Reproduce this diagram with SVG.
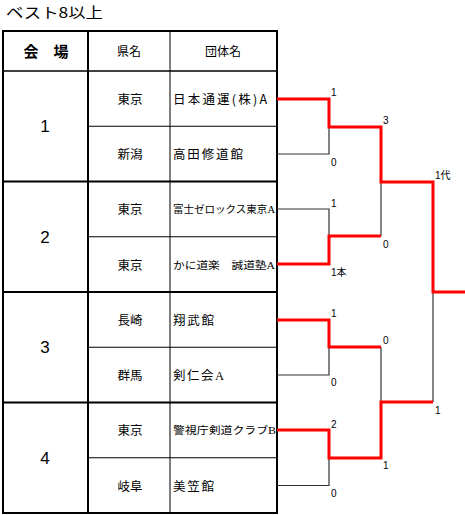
<svg xmlns="http://www.w3.org/2000/svg" width="465" height="515" viewBox="0 0 465 515">
<style>
text{font-family:"Noto Sans CJK JP","Liberation Sans",sans-serif;fill:#000}
.t{font-size:14.5px}
.h{font-size:15px;font-weight:bold}
.hc{font-size:12px}
.n{font-size:17px;font-family:"Liberation Sans","Noto Sans CJK JP",sans-serif}
.p{font-size:12.5px}
.m{font-size:12.5px}
.s{font-size:10.5px;font-family:"Liberation Serif","Noto Sans CJK JP",serif}
.sc{font-size:10px;font-family:"Liberation Sans","Noto Sans CJK JP",sans-serif}
.thick{stroke:#000;stroke-width:2;fill:none}
.thin{stroke:#000;stroke-width:1;fill:none}
.b{stroke:#333;stroke-width:1.2;fill:none}
.r{stroke:#ff0000;stroke-width:3;fill:none}
</style>
<rect width="465" height="515" fill="#fff"/>
<text class="t" x="6" y="17.5" textLength="97" lengthAdjust="spacingAndGlyphs">ベスト8以上</text>
<g id="table">
<rect class="thick" x="3" y="31" width="274" height="482"/>
<line class="thick" x1="88" y1="31" x2="88" y2="513"/>
<line class="thin" x1="170" y1="31" x2="170" y2="513"/>
<line class="thick" x1="3" y1="71" x2="277" y2="71" style="stroke-width:1.5"/>
<line class="thick" x1="3" y1="181.5" x2="277" y2="181.5"/>
<line class="thick" x1="3" y1="292" x2="277" y2="292"/>
<line class="thick" x1="3" y1="402.5" x2="277" y2="402.5"/>
<line class="thin" x1="88" y1="126.25" x2="277" y2="126.25"/>
<line class="thin" x1="88" y1="236.75" x2="277" y2="236.75"/>
<line class="thin" x1="88" y1="347.25" x2="277" y2="347.25"/>
<line class="thin" x1="88" y1="457.75" x2="277" y2="457.75"/>
<text class="h" x="46" y="56.5" text-anchor="middle">会　場</text>
<text class="hc" x="129" y="55.5" text-anchor="middle">県名</text>
<text class="hc" x="223" y="55.5" text-anchor="middle">団体名</text>
</g>
<g id="venue1">
<text class="n" x="45" y="132" text-anchor="middle">1</text>
<text class="p" x="130" y="103.5" text-anchor="middle">東京</text>
<text class="m" x="173" y="103.5" textLength="94" lengthAdjust="spacing">日本通運(株)A</text>
<text class="p" x="130" y="159" text-anchor="middle">新潟</text>
<text class="m" x="173" y="159" textLength="70" lengthAdjust="spacing">高田修道館</text>
</g>
<g id="venue2">
<text class="n" x="45" y="243" text-anchor="middle">2</text>
<text class="p" x="130" y="214" text-anchor="middle">東京</text>
<text class="s" x="173" y="213" textLength="102" lengthAdjust="spacingAndGlyphs">富士ゼロックス東京A</text>
<text class="p" x="130" y="269.5" text-anchor="middle">東京</text>
<text class="s" x="173" y="268.5" textLength="102" lengthAdjust="spacingAndGlyphs">かに道楽　誠道塾A</text>
</g>
<g id="venue3">
<text class="n" x="45" y="353" text-anchor="middle">3</text>
<text class="p" x="130" y="325" text-anchor="middle">長崎</text>
<text class="m" x="173" y="325" textLength="41" lengthAdjust="spacing">翔武館</text>
<text class="p" x="130" y="380" text-anchor="middle">群馬</text>
<text class="s" x="173" y="380" style="font-size:12.5px" textLength="51" lengthAdjust="spacing">剣仁会A</text>
</g>
<g id="venue4">
<text class="n" x="45" y="464" text-anchor="middle">4</text>
<text class="p" x="130" y="435" text-anchor="middle">東京</text>
<text class="s" x="173" y="434" textLength="103" lengthAdjust="spacingAndGlyphs">警視庁剣道クラブB</text>
<text class="p" x="130" y="490.5" text-anchor="middle">岐阜</text>
<text class="m" x="173" y="490.5" textLength="41" lengthAdjust="spacing">美笠館</text>
</g>
<g id="connectors">
<path class="b" d="M277,154 H329 V127"/>
<path class="b" d="M277,209 H329 V236"/>
<path class="b" d="M277,375 H329 V347"/>
<path class="b" d="M277,485.5 H329 V458"/>
<path class="b" d="M381,182 V236"/>
<path class="b" d="M381,347 V402"/>
<path class="b" d="M433,292 V402"/>
<path class="r" d="M277,99 H329 V127 H381 V182 H433 V292 H465"/>
<path class="r" d="M277,264 H329 V236 H381"/>
<path class="r" d="M277,320 H329 V347 H381"/>
<path class="r" d="M277,430 H329 V458 H381 V402 H433"/>
</g>
<g id="scores">
<text class="sc" x="331" y="96">1</text>
<text class="sc" x="331" y="166">0</text>
<text class="sc" x="383" y="124">3</text>
<text class="sc" x="435" y="179">1代</text>
<text class="sc" x="331" y="207">1</text>
<text class="sc" x="383" y="248">0</text>
<text class="sc" x="331" y="276">1本</text>
<text class="sc" x="331" y="317">1</text>
<text class="sc" x="331" y="386">0</text>
<text class="sc" x="383" y="344">0</text>
<text class="sc" x="331" y="428">2</text>
<text class="sc" x="383" y="469">1</text>
<text class="sc" x="331" y="497">0</text>
<text class="sc" x="435" y="414">1</text>
</g>
</svg>
